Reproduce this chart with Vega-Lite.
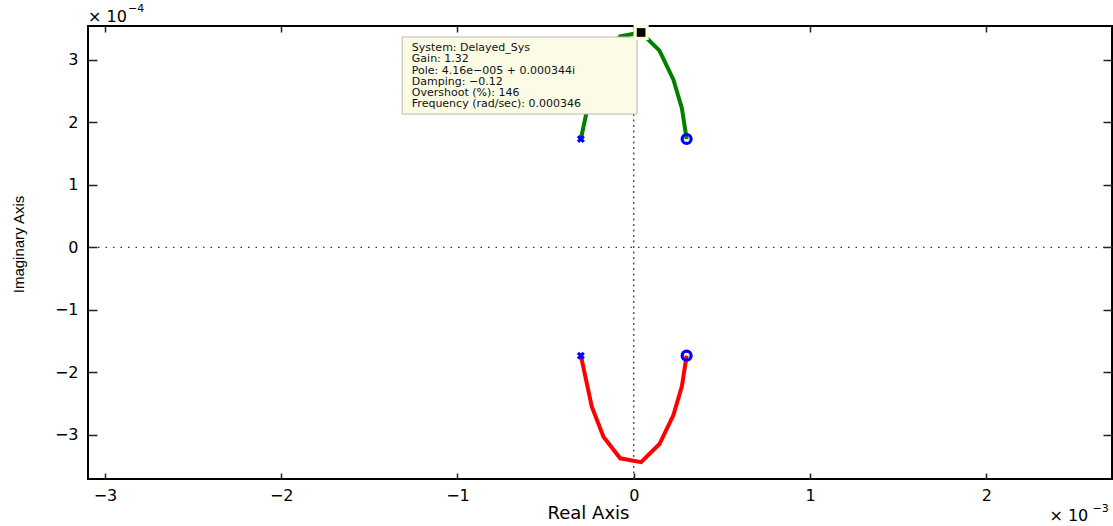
{
  "$schema": "https://vega.github.io/schema/vega-lite/v6.json",
  "width": 1024,
  "height": 453,
  "autosize": {"type": "none"},
  "padding": {"left": 88, "top": 26, "right": 1, "bottom": 47},
  "background": "white",
  "config": {
    "view": {"stroke": "black", "strokeWidth": 2},
    "font": "DejaVu Sans"
  },
  "datasets": {
    "green": [
      {"x": -0.3, "y": 1.735}, {"x": -0.238, "y": 2.552}, {"x": -0.172, "y": 3.033},
      {"x": -0.077, "y": 3.379}, {"x": 0.0416, "y": 3.44}, {"x": 0.146, "y": 3.15},
      {"x": 0.225, "y": 2.685}, {"x": 0.273, "y": 2.227}, {"x": 0.3, "y": 1.735}
    ],
    "red": [
      {"x": -0.3, "y": -1.735}, {"x": -0.238, "y": -2.552}, {"x": -0.172, "y": -3.033},
      {"x": -0.077, "y": -3.379}, {"x": 0.0416, "y": -3.44}, {"x": 0.146, "y": -3.15},
      {"x": 0.225, "y": -2.685}, {"x": 0.273, "y": -2.227}, {"x": 0.3, "y": -1.735}
    ],
    "poles": [{"x": -0.3, "y": 1.735}, {"x": -0.3, "y": -1.735}],
    "zeros": [{"x": 0.3, "y": 1.735}, {"x": 0.3, "y": -1.735}],
    "box": [{"x1": -1.314, "x2": 0.019, "y1": 3.368, "y2": 2.134}],
    "lines": [
      {"x": -1.259, "y": 3.196, "t": "System: Delayed_Sys"},
      {"x": -1.259, "y": 3.01, "t": "Gain: 1.32"},
      {"x": -1.259, "y": 2.823, "t": "Pole: 4.16e−005 + 0.000344i"},
      {"x": -1.259, "y": 2.647, "t": "Damping: −0.12"},
      {"x": -1.259, "y": 2.475, "t": "Overshoot (%): 146"},
      {"x": -1.259, "y": 2.29, "t": "Frequency (rad/sec): 0.000346"}
    ],
    "marker": [{"x": 0.0416, "y": 3.44}],
    "expbase": [
      {"x": -3.096, "y": 3.693, "t": "× 10"},
      {"x": 2.358, "y": -4.303, "t": "× 10"}
    ],
    "expsup": [
      {"x": -2.869, "y": 3.811, "t": "−4"},
      {"x": 2.602, "y": -4.19, "t": "−3"}
    ],
    "zero": [{"v": 0}]
  },
  "layer": [
    {
      "data": {"name": "zero"},
      "mark": {"type": "rule", "color": "#333333", "strokeWidth": 1.2, "strokeDash": [1.5, 6]},
      "encoding": {
        "y": {"field": "v", "type": "quantitative",
          "scale": {"domain": [-3.71, 3.544], "nice": false, "zero": false},
          "axis": {"orient": "left", "values": [-3, -2, -1, 0, 1, 2, 3], "grid": false, "domain": false,
            "tickSize": -9, "tickColor": "#222222", "tickWidth": 1.5, "labelPadding": 19,
            "labelFont": "DejaVu Sans", "labelFontSize": 16, "labelColor": "black",
            "title": "Imaginary Axis", "titleFont": "Liberation Sans", "titleFontSize": 15, "titleFontWeight": "normal",
            "titleColor": "black", "titleX": -70, "titleY": 218, "titleAngle": -90, "titleBaseline": "middle", "titleAlign": "center"}}
      }
    },
    {
      "data": {"name": "zero"},
      "mark": {"type": "rule", "color": "#333333", "strokeWidth": 1.2, "strokeDash": [2, 3.5]},
      "encoding": {
        "x": {"field": "v", "type": "quantitative",
          "scale": {"domain": [-3.096, 2.713], "nice": false, "zero": false},
          "axis": {"orient": "bottom", "values": [-3, -2, -1, 0, 1, 2], "grid": false, "domain": false,
            "tickSize": -6, "tickColor": "#222222", "tickWidth": 1.5, "labelPadding": 14,
            "labelFont": "DejaVu Sans", "labelFontSize": 16, "labelColor": "black",
            "title": "Real Axis", "titleFont": "DejaVu Sans", "titleFontSize": 18, "titleFontWeight": "normal",
            "titleColor": "black", "titleX": 500, "titleAlign": "center", "titlePadding": 1}}
      }
    },
    {
      "data": {"name": "zero"},
      "mark": {"type": "rule", "opacity": 0},
      "encoding": {
        "x": {"field": "v", "type": "quantitative",
          "axis": {"orient": "top", "values": [-3, -2, -1, 0, 1, 2], "grid": false, "domain": false,
            "tickSize": -6, "tickColor": "#222222", "tickWidth": 1.5, "labels": false, "title": null}},
        "y": {"field": "v", "type": "quantitative",
          "axis": {"orient": "right", "values": [-3, -2, -1, 0, 1, 2, 3], "grid": false, "domain": false,
            "tickSize": -9, "tickColor": "#222222", "tickWidth": 1.5, "labels": false, "title": null}}
      }
    },
    {
      "data": {"name": "green"},
      "mark": {"type": "line", "color": "#008000", "strokeWidth": 4},
      "encoding": {
        "x": {"field": "x", "type": "quantitative", "axis": null},
        "y": {"field": "y", "type": "quantitative", "axis": null}
      }
    },
    {
      "data": {"name": "red"},
      "mark": {"type": "line", "color": "#ff0000", "strokeWidth": 4},
      "encoding": {
        "x": {"field": "x", "type": "quantitative", "axis": null},
        "y": {"field": "y", "type": "quantitative", "axis": null}
      }
    },
    {
      "data": {"name": "poles"},
      "mark": {"type": "point", "shape": "cross", "angle": 45, "filled": true, "color": "#0000ff", "size": 65, "opacity": 1},
      "encoding": {
        "x": {"field": "x", "type": "quantitative", "axis": null},
        "y": {"field": "y", "type": "quantitative", "axis": null}
      }
    },
    {
      "data": {"name": "zeros"},
      "mark": {"type": "point", "shape": "circle", "filled": false, "color": "#0000ff", "size": 80, "strokeWidth": 3.2, "opacity": 1},
      "encoding": {
        "x": {"field": "x", "type": "quantitative", "axis": null},
        "y": {"field": "y", "type": "quantitative", "axis": null}
      }
    },
    {
      "data": {"name": "box"},
      "mark": {"type": "rect", "fill": "#fcfce6", "stroke": "#b8b8b8", "strokeWidth": 1},
      "encoding": {
        "x": {"field": "x1", "type": "quantitative", "axis": null},
        "x2": {"field": "x2"},
        "y": {"field": "y1", "type": "quantitative", "axis": null},
        "y2": {"field": "y2"}
      }
    },
    {
      "data": {"name": "lines"},
      "mark": {"type": "text", "align": "left", "baseline": "middle", "font": "DejaVu Sans", "fontSize": 11, "color": "#111111"},
      "encoding": {
        "x": {"field": "x", "type": "quantitative", "axis": null},
        "y": {"field": "y", "type": "quantitative", "axis": null},
        "text": {"field": "t"}
      }
    },
    {
      "data": {"name": "marker"},
      "mark": {"type": "point", "shape": "square", "filled": true, "color": "#fcfcd8", "size": 230, "opacity": 1},
      "encoding": {
        "x": {"field": "x", "type": "quantitative", "axis": null},
        "y": {"field": "y", "type": "quantitative", "axis": null}
      }
    },
    {
      "data": {"name": "marker"},
      "mark": {"type": "point", "shape": "square", "filled": true, "color": "black", "size": 75, "opacity": 1},
      "encoding": {
        "x": {"field": "x", "type": "quantitative", "axis": null},
        "y": {"field": "y", "type": "quantitative", "axis": null}
      }
    },
    {
      "data": {"name": "expbase"},
      "mark": {"type": "text", "align": "left", "baseline": "middle", "font": "DejaVu Sans", "fontSize": 16, "color": "black", "clip": false},
      "encoding": {
        "x": {"field": "x", "type": "quantitative", "axis": null},
        "y": {"field": "y", "type": "quantitative", "axis": null},
        "text": {"field": "t"}
      }
    },
    {
      "data": {"name": "expsup"},
      "mark": {"type": "text", "align": "left", "baseline": "middle", "font": "DejaVu Sans", "fontSize": 11, "color": "black", "clip": false},
      "encoding": {
        "x": {"field": "x", "type": "quantitative", "axis": null},
        "y": {"field": "y", "type": "quantitative", "axis": null},
        "text": {"field": "t"}
      }
    }
  ],
  "resolve": {"axis": {"x": "independent", "y": "independent"}}
}
